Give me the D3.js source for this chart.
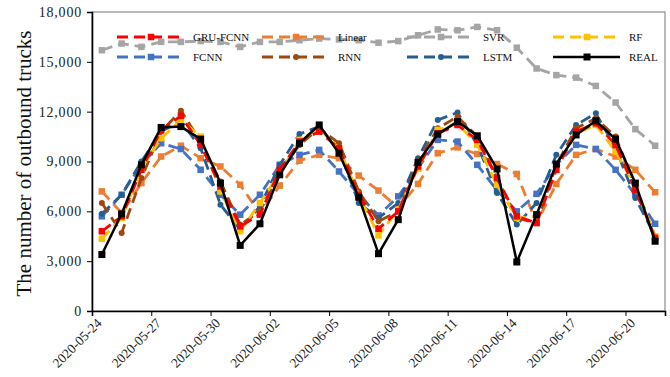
<!DOCTYPE html>
<html>
  <head>
    <meta http-equiv="Content-Type" content="text/html; charset=utf-8" />
    <style>
    body {
      margin: 0;
      background: #fff;
    }
    text {
      font-family: "Liberation Serif", "Times New Roman", serif;
      fill: #222;
    }
    </style>
  </head>
  <body>
    <div id="chart"></div>
    <script src="https://d3js.org/d3.v7.min.js"></script>
    <script>

var dates = ["2020-05-24", "2020-05-25", "2020-05-26", "2020-05-27", "2020-05-28", "2020-05-29",
  "2020-05-30", "2020-05-31", "2020-06-01", "2020-06-02", "2020-06-03", "2020-06-04",
  "2020-06-05", "2020-06-06", "2020-06-07", "2020-06-08", "2020-06-09", "2020-06-10",
  "2020-06-11", "2020-06-12", "2020-06-13", "2020-06-14", "2020-06-15", "2020-06-16",
  "2020-06-17", "2020-06-18", "2020-06-19", "2020-06-20", "2020-06-21"];

var real     = [3400, 5850, 8800, 11050, 11100, 10350, 7700, 3950, 5250, 8200, 10100, 11200, 9500, 6850, 3450, 5500, 8950, 10650, 11400, 10550, 8550, 2950, 5800, 8850, 10600, 11450, 10350, 7700, 4200];
var gruFcnn  = [4800, 5700, 8500, 10900, 11750, 10000, 7500, 5100, 5800, 8500, 10200, 10800, 9800, 7000, 4950, 6000, 8700, 10700, 11200, 10300, 8000, 5700, 5300, 8500, 10800, 11300, 10000, 7300, 4400];
var linear   = [7200, 5900, 7700, 9300, 9950, 9200, 8700, 7600, 5850, 7550, 9050, 9400, 9200, 8150, 7250, 6200, 7650, 9500, 9850, 9450, 8850, 8250, 5300, 7650, 9400, 9750, 9300, 8500, 7150];
var svr      = [15700, 16100, 15900, 16200, 16200, 16250, 16200, 15900, 16200, 16200, 16300, 16400, 16350, 16300, 16150, 16250, 16600, 16950, 16900, 17100, 16900, 15850, 14600, 14200, 14050, 13550, 12550, 10950, 9950];
var rf       = [4350, 5600, 8600, 10400, 11500, 10500, 7200, 4800, 6500, 8300, 10300, 11000, 9800, 7000, 4550, 6100, 8600, 10900, 11300, 10000, 7600, 5600, 5700, 8600, 10700, 11200, 9600, 7500, 4500];
var fcnn     = [5700, 7000, 8800, 10100, 9750, 8500, 7000, 5800, 7000, 8800, 9400, 9700, 8400, 7000, 5750, 6900, 8600, 10300, 10200, 8800, 7250, 6000, 7050, 8800, 10000, 9750, 8500, 7000, 5250];
var rnn      = [6500, 4700, 8000, 10800, 12050, 10200, 7800, 5200, 6000, 8300, 10000, 11000, 10100, 7200, 5400, 6000, 9000, 11000, 11700, 10500, 8000, 5600, 5300, 8800, 11000, 11600, 10500, 7500, 4500];
var lstm     = [5850, 7000, 9000, 10800, 11450, 9800, 6400, 4900, 6300, 8800, 10650, 11100, 9700, 6500, 5600, 6500, 9200, 11500, 11950, 10000, 7100, 5200, 6500, 9400, 11200, 11900, 9800, 6800, 4500];

var yTicks = [0, 3000, 6000, 9000, 12000, 15000, 18000];
var xTickIdx = [0, 3, 6, 9, 12, 15, 18, 21, 24, 27];

// legend order (4 columns, two rows)
var series = [
  {name: "GRU-FCNN", values: gruFcnn, color: "#FF0000", mark: "square", col: 0, row: 0},
  {name: "Linear",   values: linear,  color: "#ED7D31", mark: "square", col: 1, row: 0},
  {name: "SVR",      values: svr,     color: "#A5A5A5", mark: "square", col: 2, row: 0},
  {name: "RF",       values: rf,      color: "#FFC000", mark: "square", col: 3, row: 0},
  {name: "FCNN",     values: fcnn,    color: "#4472C4", mark: "square", col: 0, row: 1},
  {name: "RNN",      values: rnn,     color: "#9E480E", mark: "circle", col: 1, row: 1},
  {name: "LSTM",     values: lstm,    color: "#255E91", mark: "circle", col: 2, row: 1},
  {name: "REAL",     values: real,    color: "#000000", mark: "square", col: 3, row: 1, solid: true}
];
var drawOrder = ["SVR", "Linear", "FCNN", "LSTM", "RNN", "RF", "GRU-FCNN", "REAL"];

var width = 670, height = 377;
var margin = {left: 92, right: 5, top: 12, bottom: 66};

var svg = d3.select("#chart").append("svg")
    .attr("width", width)
    .attr("height", height);

var x = d3.scaleLinear()
    .domain([0, dates.length])
    .range([margin.left, width - margin.right]);

var y = d3.scaleLinear()
    .domain([0, 18000])
    .range([height - margin.bottom, margin.top]);

// plot frame (top/right are grey)
svg.append("rect")
    .attr("x", x(0)).attr("y", y(18000))
    .attr("width", x(dates.length) - x(0))
    .attr("height", y(0) - y(18000))
    .style("fill", "none")
    .style("stroke", "#8c8c8c")
    .style("stroke-width", 1.2);

var yAxis = svg.append("g")
    .attr("transform", "translate(" + x(0) + ",0)")
    .call(d3.axisLeft(y).tickValues(yTicks).tickSize(5).tickPadding(5)
      .tickFormat(d3.format(",")));
yAxis.select(".domain").style("stroke", "#000").style("stroke-width", 1.6);
yAxis.selectAll("line").style("stroke", "#000");
yAxis.selectAll("text")
    .style("font-size", "14px")
    .style("letter-spacing", "0.8px")
    .style("font-family", "'Liberation Serif', serif")
    .style("fill", "#222");

var xAxis = svg.append("g")
    .attr("transform", "translate(0," + y(0) + ")")
    .call(d3.axisBottom(x).tickValues(xTickIdx).tickSize(5)
      .tickFormat(function(i){ return dates[i]; }));
xAxis.select(".domain").style("stroke", "#000").style("stroke-width", 1.6);
xAxis.selectAll("line").style("stroke", "#000");
xAxis.selectAll("text")
    .style("font-size", "13.5px")
    .style("font-family", "'Liberation Serif', serif")
    .style("fill", "#222")
    .attr("text-anchor", "end")
    .attr("y", 0).attr("dy", 0)
    .attr("transform", "translate(10,13) rotate(-45)");

// y axis title
svg.append("text")
    .attr("transform", "translate(31," + ((y(0) + y(18000)) / 2 + 2) + ") rotate(-90)")
    .attr("text-anchor", "middle")
    .style("font-size", "21px")
    .style("fill", "#111")
    .text("The number of outbound trucks");

var line = d3.line()
    .x(function(d, i){ return x(i + 0.5); })
    .y(function(d){ return y(d); });

function drawMarkers(g, s, pts){
  if (s.mark === "square") {
    var sz = s.solid ? 7 : 6.5;
    g.selectAll("rect.mk").data(pts).enter().append("rect")
      .attr("class", "mk")
      .attr("x", function(d){ return d[0] - sz / 2; })
      .attr("y", function(d){ return d[1] - sz / 2; })
      .attr("width", sz).attr("height", sz)
      .style("fill", s.color);
  } else {
    g.selectAll("circle.mk").data(pts).enter().append("circle")
      .attr("class", "mk")
      .attr("cx", function(d){ return d[0]; })
      .attr("cy", function(d){ return d[1]; })
      .attr("r", 3)
      .style("fill", s.color);
  }
}

drawOrder.forEach(function(name){
  var s = series.find(function(d){ return d.name === name; });
  var g = svg.append("g").attr("class", "series");
  g.append("path")
    .datum(s.values)
    .attr("d", line)
    .style("fill", "none")
    .style("stroke", s.color)
    .style("stroke-width", s.solid ? 2.5 : 2.8)
    .style("stroke-dasharray", s.solid ? null : "11,6")
    .style("stroke-linejoin", "round");
  var pts = s.values.map(function(v, i){ return [x(i + 0.5), y(v)]; });
  drawMarkers(g, s, pts);
});

// legend
var legX = [117, 262, 407, 553], legY = [37, 57];
series.forEach(function(s){
  var lx = legX[s.col], ly = legY[s.row];
  var g = svg.append("g").attr("class", "legend");
  g.append("line")
    .attr("x1", lx).attr("x2", lx + 67)
    .attr("y1", ly).attr("y2", ly)
    .style("stroke", s.color)
    .style("stroke-width", s.solid ? 2.5 : 2.8)
    .style("stroke-dasharray", s.solid ? null : "11,6");
  drawMarkers(g, s, [[lx + 34, ly]]);
  g.append("text")
    .attr("x", lx + 76).attr("y", ly)
    .attr("dy", "0.35em")
    .style("font-size", "11px")
    .style("fill", "#111")
    .text(s.name);
});

    </script>
  </body>
</html>
